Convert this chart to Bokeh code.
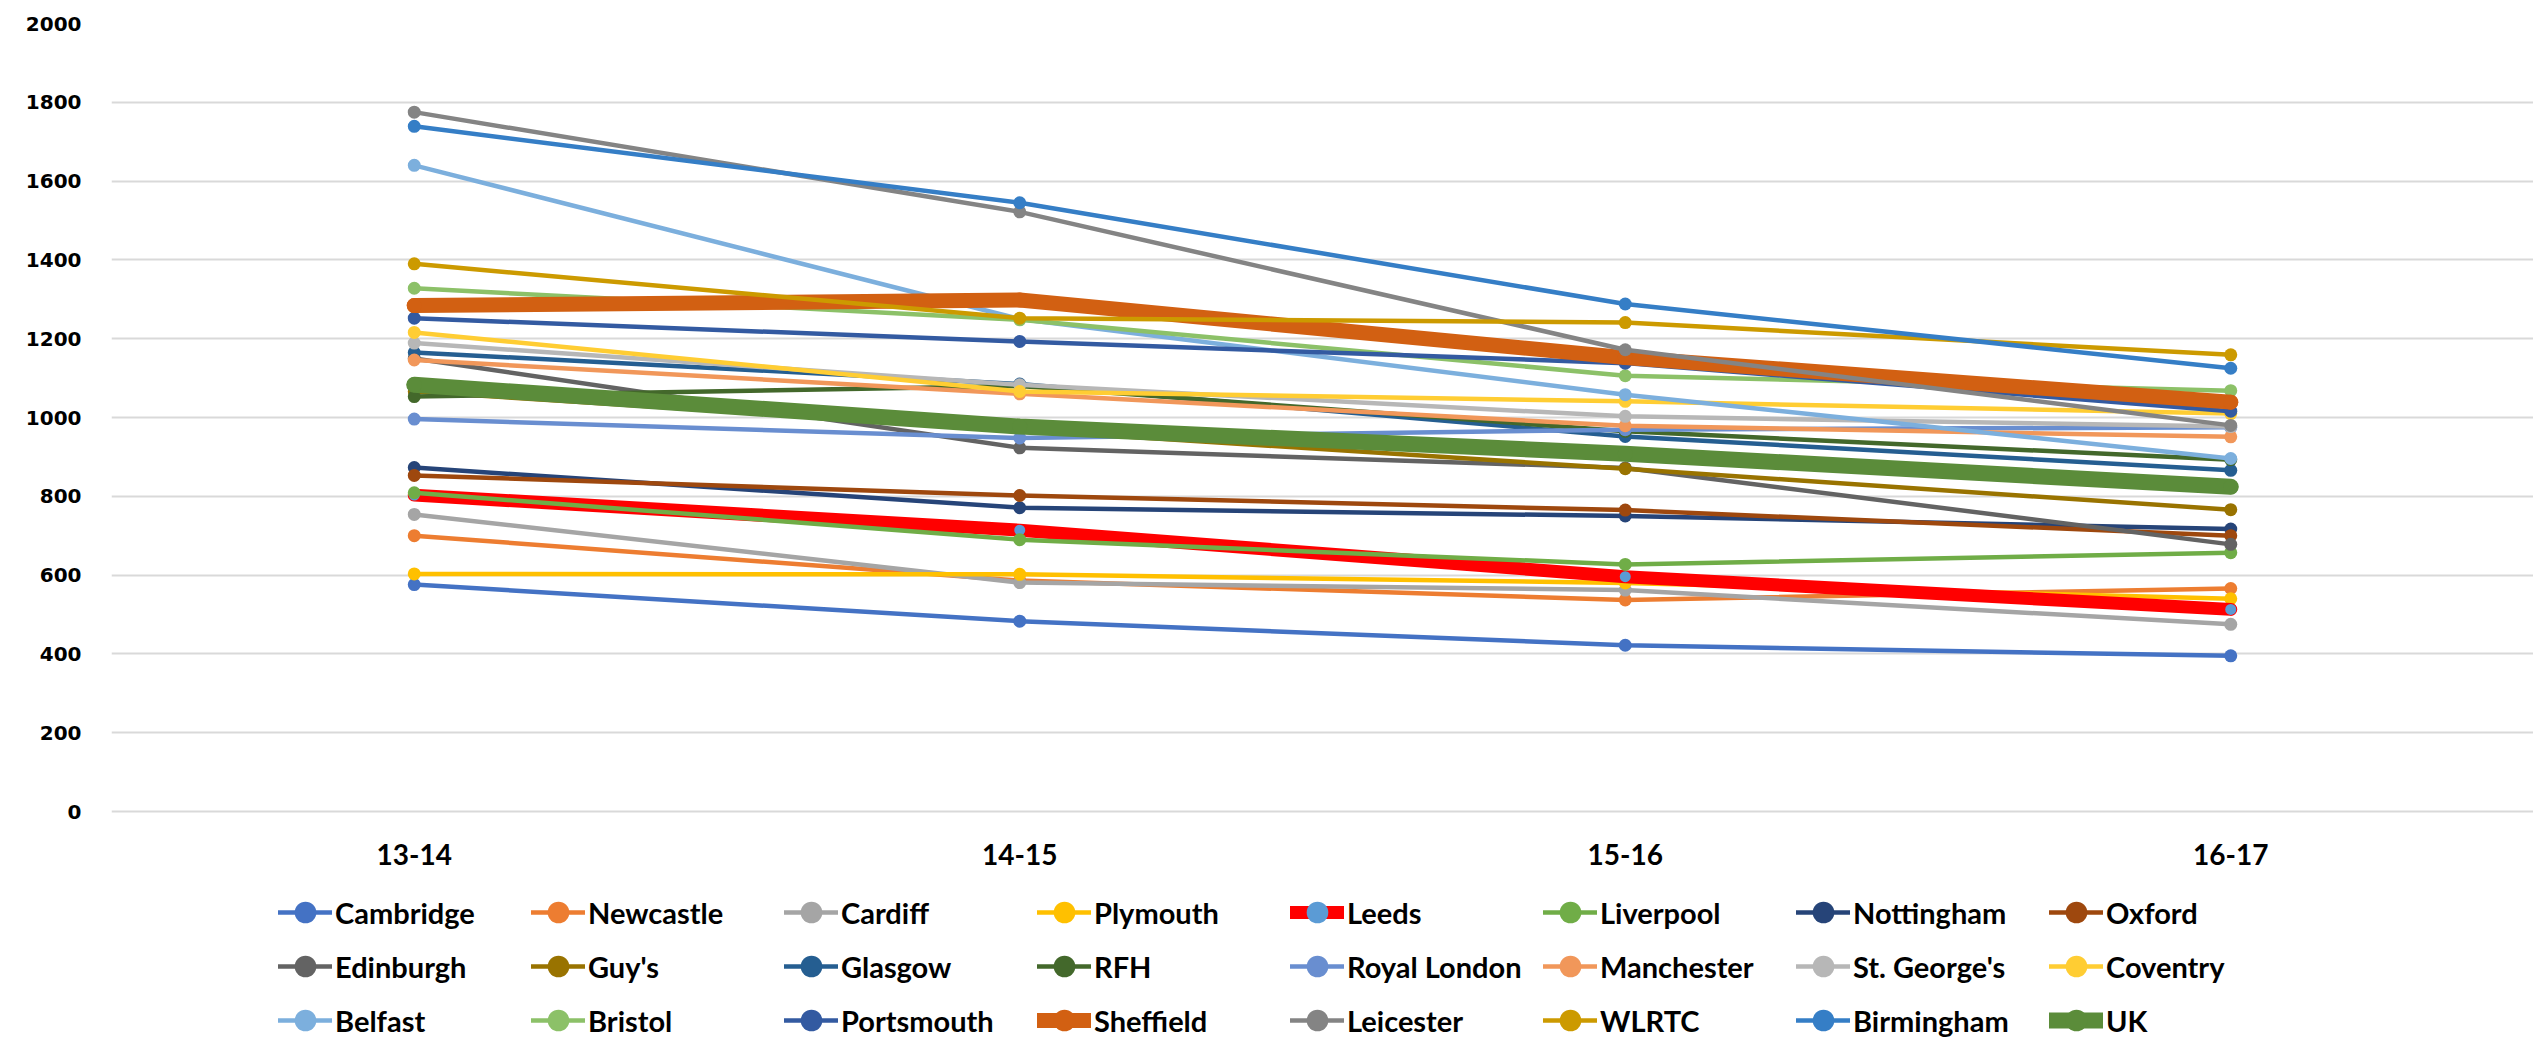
from bokeh.plotting import figure
from bokeh.models import FactorRange, Range1d, Legend, LegendItem, FixedTicker
from bokeh.embed import file_html
from bokeh.resources import INLINE

# ---- data ----
years = ["13-14", "14-15", "15-16", "16-17"]
y_ticks = [0, 200, 400, 600, 800, 1000, 1200, 1400, 1600, 1800, 2000]

names = ["Cambridge", "Newcastle", "Cardiff", "Plymouth", "Leeds", "Liverpool",
         "Nottingham", "Oxford", "Edinburgh", "Guy's", "Glasgow", "RFH",
         "Royal London", "Manchester", "St. George's", "Coventry", "Belfast",
         "Bristol", "Portsmouth", "Sheffield", "Leicester", "WLRTC",
         "Birmingham", "UK"]

cambridge = [576, 483, 422, 395]
newcastle = [700, 586, 537, 566]
cardiff = [754, 581, 562, 475]
plymouth = [603, 602, 580, 540]
leeds = [803, 714, 596, 513]
liverpool = [809, 690, 627, 657]
nottingham = [873, 771, 750, 717]
oxford = [853, 802, 765, 700]
edinburgh = [1150, 923, 872, 678]
guys = [1066, 969, 870, 766]
glasgow = [1165, 1085, 952, 866]
rfh = [1053, 1080, 965, 893]
royal_london = [996, 948, 969, 975]
manchester = [1146, 1060, 979, 951]
st_georges = [1189, 1083, 1003, 977]
coventry = [1216, 1066, 1041, 1010]
belfast = [1640, 1250, 1058, 896]
bristol = [1328, 1248, 1106, 1068]
portsmouth = [1252, 1193, 1138, 1016]
sheffield = [1284, 1298, 1152, 1039]
leicester = [1775, 1522, 1172, 980]
wlrtc = [1390, 1252, 1241, 1159]
birmingham = [1739, 1545, 1288, 1125]
uk = [1083, 977, 908, 824]

series = [cambridge, newcastle, cardiff, plymouth, leeds, liverpool, nottingham,
          oxford, edinburgh, guys, glasgow, rfh, royal_london, manchester,
          st_georges, coventry, belfast, bristol, portsmouth, sheffield,
          leicester, wlrtc, birmingham, uk]

line_colors = ["#4472C4", "#ED7D31", "#A5A5A5", "#FFC000", "#FF0000", "#70AD47",
               "#264478", "#9E480E", "#636363", "#997300", "#255E91", "#43682B",
               "#698ED0", "#F1975A", "#B7B7B7", "#FFCD33", "#7CAFDD", "#8CC168",
               "#335AA1", "#D26012", "#848484", "#CC9A00", "#357EC6", "#5B8C3A"]
marker_colors = list(line_colors)
marker_colors[4] = "#5B9BD5"

thick = {"Leeds": 13, "Sheffield": 15, "UK": 16}

# ---- layout (pixels) ----
FIG_H = 1037
TOP = 23
FRAME_H = FIG_H - TOP   # frame runs to the bottom of the figure
ZERO_PX = 788           # px from frame top down to the value 0
y_low = -2000 * (FRAME_H - ZERO_PX) / ZERO_PX   # room under the axis for labels + legend

p = figure(x_range=FactorRange(factors=years, range_padding=0),
           y_range=Range1d(y_low, 2000), x_axis_location=None,
           width=2533, height=FIG_H, output_backend="svg", toolbar_location=None,
           min_border_left=111, min_border_right=0, min_border_top=TOP,
           min_border_bottom=0)
p.outline_line_color = None
p.background_fill_color = "white"

p.xgrid.grid_line_color = None
p.ygrid.grid_line_color = "#D9D9D9"
p.ygrid.grid_line_width = 2

p.yaxis.ticker = FixedTicker(ticks=y_ticks)
p.yaxis.axis_line_color = None
p.yaxis.major_tick_line_color = None
p.yaxis.minor_tick_line_color = None
p.yaxis.major_label_text_font = "DejaVu Sans"
p.yaxis.major_label_text_font_style = "bold"
p.yaxis.major_label_text_font_size = "20px"
p.yaxis.major_label_text_color = "#000000"
p.yaxis.major_label_standoff = 24

# category labels under the zero line
p.text(x=years, y=[0] * len(years), text=years, y_offset=32,
       text_align="center", text_baseline="top",
       text_font={"value": "Lato"}, text_font_style="bold",
       text_font_size="28px", text_color="#000000")

items = []
for name, vals, lc, mc in zip(names, series, line_colors, marker_colors):
    lw = thick.get(name, 4.5)
    ms = 15 if name in ("Sheffield", "UK") else (11 if name == "Leeds" else 13)
    lr = p.line(years, vals, line_color=lc, line_width=lw,
                line_join="round", line_cap="round")
    sr = p.scatter(years, vals, marker="circle", size=ms, fill_color=mc,
                   line_color=mc, line_width=0)
    items.append(LegendItem(label=name, renderers=[lr, sr]))

legend = Legend(items=items, location=(167, -10), orientation="horizontal",
                ncols=8, glyph_width=54, glyph_height=54, label_height=54,
                label_standoff=3, label_width=196, spacing=0, padding=0,
                margin=0, border_line_color=None, background_fill_alpha=0,
                label_text_font="Lato", label_text_font_style="bold",
                label_text_font_size="29px", label_text_color="#000000")
p.add_layout(legend)

open("out.html", "w").write(file_html(p, INLINE))
